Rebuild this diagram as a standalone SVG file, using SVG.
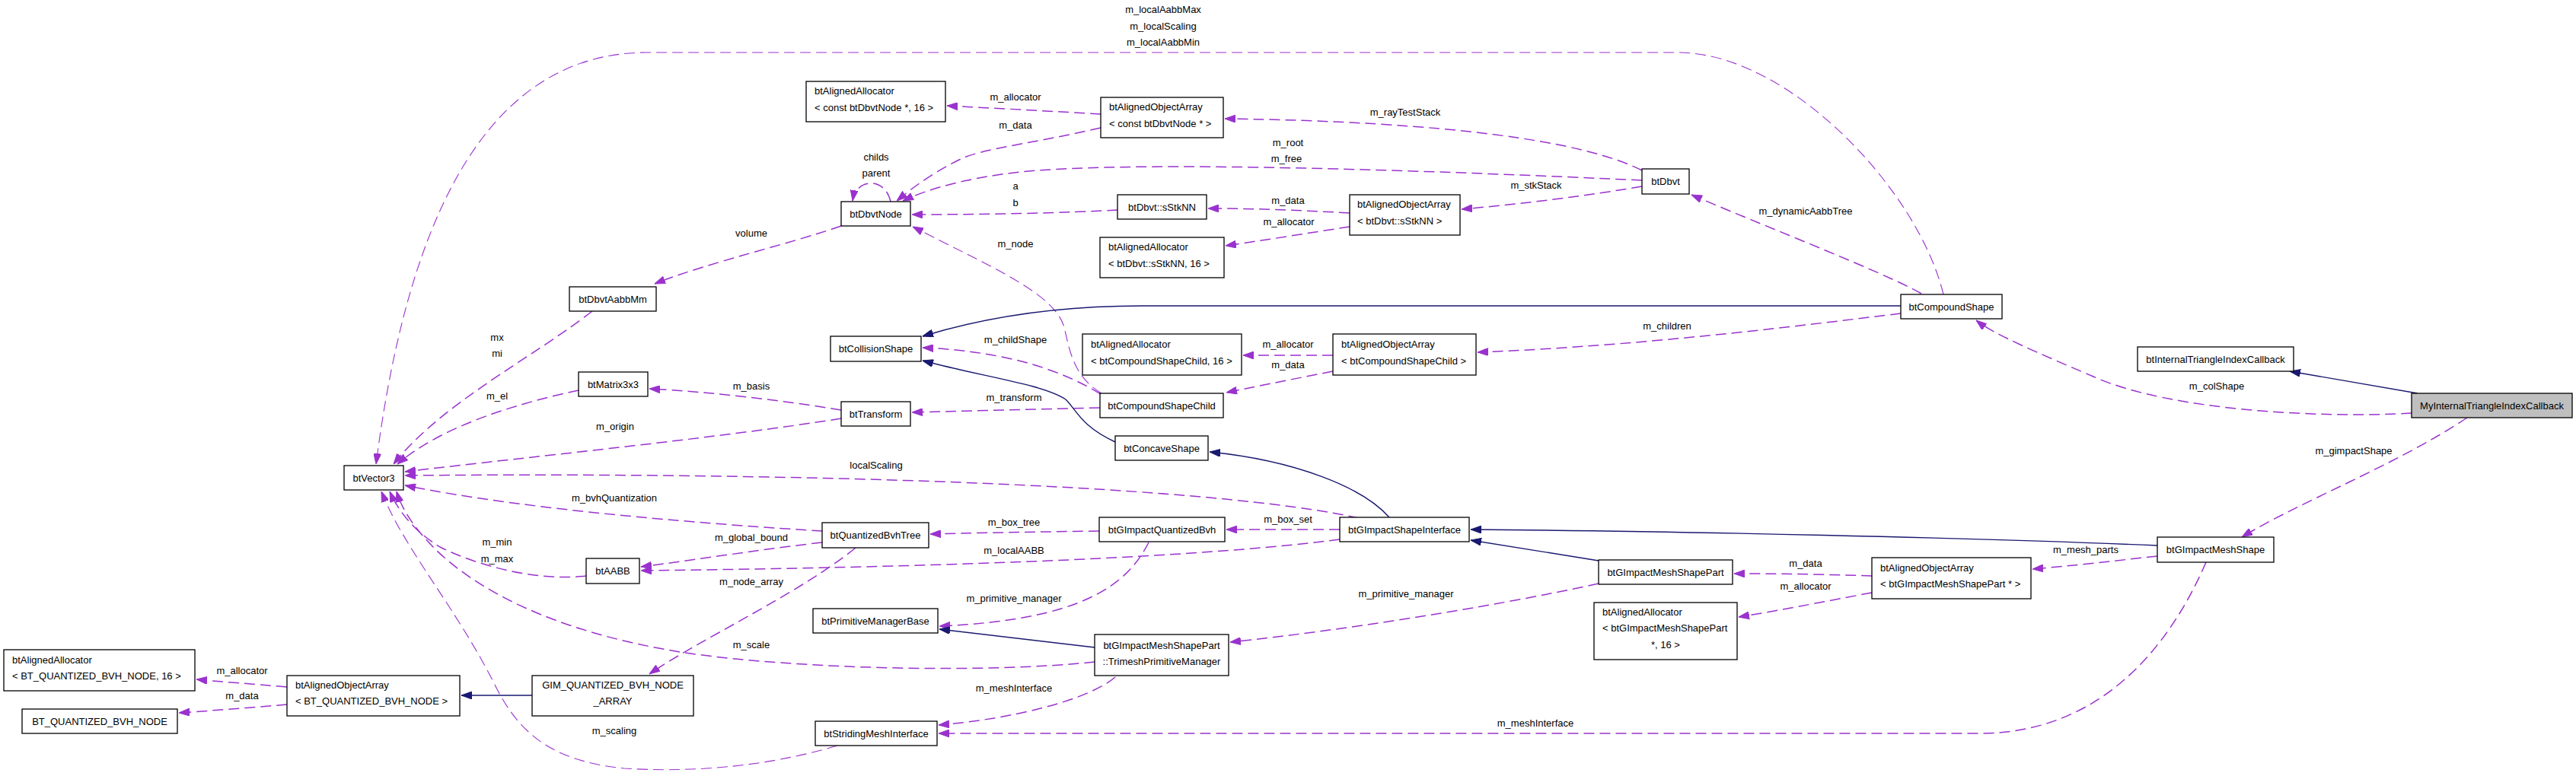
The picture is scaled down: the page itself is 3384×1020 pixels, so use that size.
<svg xmlns="http://www.w3.org/2000/svg" width="3384" height="1020" viewBox="0 0 3384 1020">
<defs>
<marker id="ap" viewBox="0 0 14 10" refX="14" refY="5" markerWidth="14" markerHeight="10" markerUnits="userSpaceOnUse" orient="auto"><path d="M0,0 L14,5 L0,10 z" fill="#9a32cd" stroke="#9a32cd" stroke-width="1"/></marker>
<marker id="an" viewBox="0 0 14 10" refX="14" refY="5" markerWidth="14" markerHeight="10" markerUnits="userSpaceOnUse" orient="auto"><path d="M0,0 L14,5 L0,10 z" fill="#191970" stroke="#191970" stroke-width="1"/></marker>
</defs>
<style>
text{font-family:"Liberation Sans",Arial,sans-serif;font-size:13px;fill:#000}
.c{text-anchor:middle}
.box{fill:#fff;stroke:#000;stroke-width:1.3}
.cur{fill:#bfbfbf;stroke:#000;stroke-width:1.3}
.u{fill:none;stroke:#9a32cd;stroke-width:1.5;stroke-dasharray:14,7;marker-end:url(#ap)}
.t{stroke-width:1.1}
.i{fill:none;stroke:#191970;stroke-width:1.4;marker-end:url(#an)}
</style>
<rect width="3384" height="1020" fill="#fff"/>
<g id="edges">
<path class="u t" d="M2553,387 C2520,250 2350,69 2204,69 L850,69 C620,69 530,330 494,610"/>
<path class="u" d="M2524,386 C2480,360 2300,290 2222,256"/>
<path class="u" d="M2157,224 C2080,185 1900,160 1609,156"/>
<path class="u" d="M2157,237 C1900,225 1500,210 1340,226 C1270,234 1220,248 1186,264"/>
<path class="u" d="M1446,168 C1350,190 1290,195 1260,210 C1220,230 1195,250 1178,264"/>
<path class="u" d="M1170,265 C1163,233 1125,233 1120,264"/>
<path class="u" d="M1468,276 C1400,280 1300,282 1198,282"/>
<path class="u" d="M2157,245 C2080,258 2000,268 1920,275"/>
<path class="u" d="M1773,280 C1700,276 1650,274 1587,274"/>
<path class="u" d="M1773,298 C1720,306 1660,316 1610,323"/>
<path class="u" d="M1105,297 C1040,320 930,345 860,373"/>
<path class="u t" d="M1447,517 C1410,495 1405,460 1398,430 C1385,385 1300,350 1199,298"/>
<path class="u" d="M1446,150 C1380,146 1300,142 1244,139"/>
<path class="u" d="M1446,518 C1400,490 1330,462 1212,457"/>
<path class="u" d="M1445,536 C1350,538 1280,540 1198,542"/>
<path class="u" d="M1105,539 C1020,525 930,515 853,511"/>
<path class="u" d="M1105,550 C950,575 700,600 532,620"/>
<path class="u" d="M778,409 C700,470 580,530 517,610"/>
<path class="u" d="M760,513 C680,530 580,560 522,610"/>
<path class="u" d="M1785,681 C1600,640 1100,620 532,625"/>
<path class="u" d="M1080,698 C950,690 700,672 532,638"/>
<path class="u" d="M770,757 C700,765 620,740 580,720 C545,700 522,670 512,646"/>
<path class="u" d="M1438,870 C1300,885 1050,880 900,858 C720,830 620,770 570,720 C545,695 528,670 521,646"/>
<path class="u t" d="M1100,980 C1000,1010 900,1015 820,1010 C720,1000 680,960 650,900 C600,800 530,720 501,646"/>
<path class="u" d="M1080,713 C1000,722 920,735 842,745"/>
<path class="u" d="M1760,709 C1600,730 1300,745 842,750"/>
<path class="u" d="M1444,698 C1370,699 1300,700 1222,702"/>
<path class="u" d="M1124,720 C1050,780 920,840 853,886"/>
<path class="u" d="M1509,713 C1480,770 1420,815 1234,823"/>
<path class="u" d="M1465,890 C1430,920 1330,945 1233,953"/>
<path class="u" d="M2898,739 C2850,850 2760,964 2600,964 L1233,964"/>
<path class="u" d="M2100,767 C1950,800 1750,830 1616,844"/>
<path class="u" d="M1760,696 L1611,696"/>
<path class="u" d="M2497,412 C2350,430 2150,455 1941,463"/>
<path class="u" d="M1751,467 L1633,467"/>
<path class="u" d="M1751,488 C1700,498 1660,506 1611,516"/>
<path class="u" d="M3168,543 C3050,550 2850,540 2750,495 C2680,465 2620,440 2596,421"/>
<path class="u" d="M3241,549 C3150,610 3020,660 2945,706"/>
<path class="u" d="M2834,731 C2770,738 2720,744 2670,748"/>
<path class="u" d="M2459,757 C2400,755 2340,754 2278,754"/>
<path class="u" d="M2459,779 C2400,790 2340,802 2284,811"/>
<path class="u" d="M377,903 C330,899 290,896 258,893"/>
<path class="u" d="M377,926 C330,930 280,934 235,937"/>
<path class="i" d="M2497,402 L1500,402 C1400,402 1300,415 1212,442"/>
<path class="i" d="M1465,581 C1420,560 1415,540 1400,525 C1370,505 1290,495 1212,474"/>
<path class="i" d="M1825,680 C1790,640 1700,605 1589,594"/>
<path class="i" d="M2834,717 C2600,707 2200,698 1932,696"/>
<path class="i" d="M2100,737 L1932,710"/>
<path class="i" d="M1438,851 L1234,827"/>
<path class="i" d="M699,914 L606,914"/>
<path class="i" d="M3176,517 L3008,488"/>
<g id="edge-labels">
<text class="c" x="1528" y="17">m_localAabbMax</text>
<text class="c" x="1528" y="39">m_localScaling</text>
<text class="c" x="1528" y="60">m_localAabbMin</text>
<text class="c" x="1334" y="132">m_allocator</text>
<text class="c" x="1334" y="169">m_data</text>
<text class="c" x="1151" y="211">childs</text>
<text class="c" x="1151" y="232">parent</text>
<text class="c" x="1846" y="152">m_rayTestStack</text>
<text class="c" x="1692" y="192">m_root</text>
<text class="c" x="1690" y="213">m_free</text>
<text class="c" x="1334" y="249">a</text>
<text class="c" x="1334" y="271">b</text>
<text class="c" x="2018" y="248">m_stkStack</text>
<text class="c" x="1692" y="268">m_data</text>
<text class="c" x="1693" y="296">m_allocator</text>
<text class="c" x="987" y="311">volume</text>
<text class="c" x="1334" y="325">m_node</text>
<text class="c" x="2372" y="282">m_dynamicAabbTree</text>
<text class="c" x="653" y="448">mx</text>
<text class="c" x="653" y="469">mi</text>
<text class="c" x="1334" y="451">m_childShape</text>
<text class="c" x="1692" y="457">m_allocator</text>
<text class="c" x="1692" y="484">m_data</text>
<text class="c" x="2190" y="433">m_children</text>
<text class="c" x="987" y="512">m_basis</text>
<text class="c" x="653" y="525">m_el</text>
<text class="c" x="1332" y="527">m_transform</text>
<text class="c" x="2912" y="512">m_colShape</text>
<text class="c" x="808" y="565">m_origin</text>
<text class="c" x="1151" y="616">localScaling</text>
<text class="c" x="3092" y="597">m_gimpactShape</text>
<text class="c" x="807" y="659">m_bvhQuantization</text>
<text class="c" x="1332" y="691">m_box_tree</text>
<text class="c" x="1692" y="687">m_box_set</text>
<text class="c" x="987" y="711">m_global_bound</text>
<text class="c" x="653" y="717">m_min</text>
<text class="c" x="653" y="739">m_max</text>
<text class="c" x="1332" y="728">m_localAABB</text>
<text class="c" x="2372" y="745">m_data</text>
<text class="c" x="2372" y="775">m_allocator</text>
<text class="c" x="2740" y="727">m_mesh_parts</text>
<text class="c" x="987" y="769">m_node_array</text>
<text class="c" x="1332" y="791">m_primitive_manager</text>
<text class="c" x="1847" y="785">m_primitive_manager</text>
<text class="c" x="987" y="852">m_scale</text>
<text class="c" x="318" y="886">m_allocator</text>
<text class="c" x="318" y="919">m_data</text>
<text class="c" x="1332" y="909">m_meshInterface</text>
<text class="c" x="2017" y="955">m_meshInterface</text>
<text class="c" x="807" y="965">m_scaling</text>
</g>
</g>
<g id="n_allocConstDbvtNode"><rect class="box" x="1059" y="107" width="183" height="53"/><text x="1070" y="124">btAlignedAllocator</text><text x="1070" y="146">&lt; const btDbvtNode *, 16 &gt;</text></g>
<g id="n_arrConstDbvtNode"><rect class="box" x="1446" y="128" width="161" height="53"/><text x="1457" y="145">btAlignedObjectArray</text><text x="1457" y="167">&lt; const btDbvtNode * &gt;</text></g>
<g id="n_btDbvtNode"><rect class="box" x="1105" y="265" width="91" height="32"/><text class="c" x="1150.5" y="285.5">btDbvtNode</text></g>
<g id="n_btDbvt"><rect class="box" x="2157" y="222" width="62" height="33"/><text class="c" x="2188" y="243">btDbvt</text></g>
<g id="n_sStkNN"><rect class="box" x="1468" y="256" width="117" height="32"/><text class="c" x="1526.5" y="276.5">btDbvt::sStkNN</text></g>
<g id="n_arrStkNN"><rect class="box" x="1773" y="256" width="145" height="53"/><text x="1783" y="273">btAlignedObjectArray</text><text x="1783" y="295">&lt; btDbvt::sStkNN &gt;</text></g>
<g id="n_allocStkNN"><rect class="box" x="1445" y="312" width="163" height="53"/><text x="1456" y="329">btAlignedAllocator</text><text x="1456" y="351">&lt; btDbvt::sStkNN, 16 &gt;</text></g>
<g id="n_btDbvtAabbMm"><rect class="box" x="748" y="377" width="114" height="32"/><text class="c" x="805" y="397.5">btDbvtAabbMm</text></g>
<g id="n_btCollisionShape"><rect class="box" x="1091" y="442" width="119" height="33"/><text class="c" x="1150.5" y="463">btCollisionShape</text></g>
<g id="n_btCompoundShape"><rect class="box" x="2497" y="387" width="133" height="32"/><text class="c" x="2563.5" y="407.5">btCompoundShape</text></g>
<g id="n_allocCSC"><rect class="box" x="1422" y="439" width="209" height="54"/><text x="1433" y="457">btAlignedAllocator</text><text x="1433" y="479">&lt; btCompoundShapeChild, 16 &gt;</text></g>
<g id="n_arrCSC"><rect class="box" x="1751" y="439" width="188" height="54"/><text x="1762" y="457">btAlignedObjectArray</text><text x="1762" y="479">&lt; btCompoundShapeChild &gt;</text></g>
<g id="n_btCompoundShapeChild"><rect class="box" x="1445" y="517" width="162" height="32"/><text class="c" x="1526" y="537.5">btCompoundShapeChild</text></g>
<g id="n_btMatrix3x3"><rect class="box" x="760" y="489" width="91" height="32"/><text class="c" x="805.5" y="509.5">btMatrix3x3</text></g>
<g id="n_btTransform"><rect class="box" x="1105" y="528" width="91" height="32"/><text class="c" x="1150.5" y="548.5">btTransform</text></g>
<g id="n_btVector3"><rect class="box" x="452" y="612" width="78" height="32"/><text class="c" x="491" y="632.5">btVector3</text></g>
<g id="n_btConcaveShape"><rect class="box" x="1465" y="573" width="122" height="32"/><text class="c" x="1526" y="593.5">btConcaveShape</text></g>
<g id="n_btGImpactShapeInterface"><rect class="box" x="1760" y="680" width="170" height="32"/><text class="c" x="1845" y="700.5">btGImpactShapeInterface</text></g>
<g id="n_btQuantizedBvhTree"><rect class="box" x="1080" y="687" width="140" height="33"/><text class="c" x="1150" y="708">btQuantizedBvhTree</text></g>
<g id="n_btGImpactQuantizedBvh"><rect class="box" x="1444" y="680" width="165" height="32"/><text class="c" x="1526.5" y="700.5">btGImpactQuantizedBvh</text></g>
<g id="n_btAABB"><rect class="box" x="770" y="734" width="70" height="33"/><text class="c" x="805" y="755">btAABB</text></g>
<g id="n_btPrimitiveManagerBase"><rect class="box" x="1068" y="800" width="164" height="32"/><text class="c" x="1150" y="820.5">btPrimitiveManagerBase</text></g>
<g id="n_TrimeshPrimitiveManager"><rect class="box" x="1438" y="834" width="176" height="54"/><text class="c" x="1526" y="852.5">btGImpactMeshShapePart</text><text class="c" x="1526" y="873.5">::TrimeshPrimitiveManager</text></g>
<g id="n_btGImpactMeshShapePart"><rect class="box" x="2100" y="736" width="176" height="32"/><text class="c" x="2188" y="756.5">btGImpactMeshShapePart</text></g>
<g id="n_arrGIMSP"><rect class="box" x="2459" y="733" width="209" height="54"/><text x="2470" y="751">btAlignedObjectArray</text><text x="2470" y="772">&lt; btGImpactMeshShapePart * &gt;</text></g>
<g id="n_allocGIMSP"><rect class="box" x="2094" y="792" width="188" height="75"/><text x="2105" y="808.5">btAlignedAllocator</text><text x="2105" y="830">&lt; btGImpactMeshShapePart</text><text class="c" x="2188" y="852">*, 16 &gt;</text></g>
<g id="n_btGImpactMeshShape"><rect class="box" x="2834" y="706" width="153" height="33"/><text class="c" x="2910.5" y="727">btGImpactMeshShape</text></g>
<g id="n_btInternalTriangleIndexCallback"><rect class="box" x="2808" y="456" width="205" height="32"/><text class="c" x="2910.5" y="476.5">btInternalTriangleIndexCallback</text></g>
<g id="n_MyInternalTriangleIndexCallback"><rect class="cur" x="3168" y="517" width="211" height="32"/><text class="c" x="3273.5" y="537.5">MyInternalTriangleIndexCallback</text></g>
<g id="n_allocBT"><rect class="box" x="5" y="854" width="251" height="54"/><text x="16" y="872">btAlignedAllocator</text><text x="16" y="893">&lt; BT_QUANTIZED_BVH_NODE, 16 &gt;</text></g>
<g id="n_arrBT"><rect class="box" x="377" y="888" width="227" height="53"/><text x="388" y="905">btAlignedObjectArray</text><text x="388" y="926">&lt; BT_QUANTIZED_BVH_NODE &gt;</text></g>
<g id="n_BT_QUANTIZED_BVH_NODE"><rect class="box" x="29" y="932" width="204" height="32"/><text class="c" x="131" y="952.5">BT_QUANTIZED_BVH_NODE</text></g>
<g id="n_GIM"><rect class="box" x="699" y="888" width="212" height="53"/><text class="c" x="805" y="905">GIM_QUANTIZED_BVH_NODE</text><text class="c" x="805" y="926">_ARRAY</text></g>
<g id="n_btStridingMeshInterface"><rect class="box" x="1071" y="948" width="160" height="32"/><text class="c" x="1151" y="968.5">btStridingMeshInterface</text></g>
</svg>
